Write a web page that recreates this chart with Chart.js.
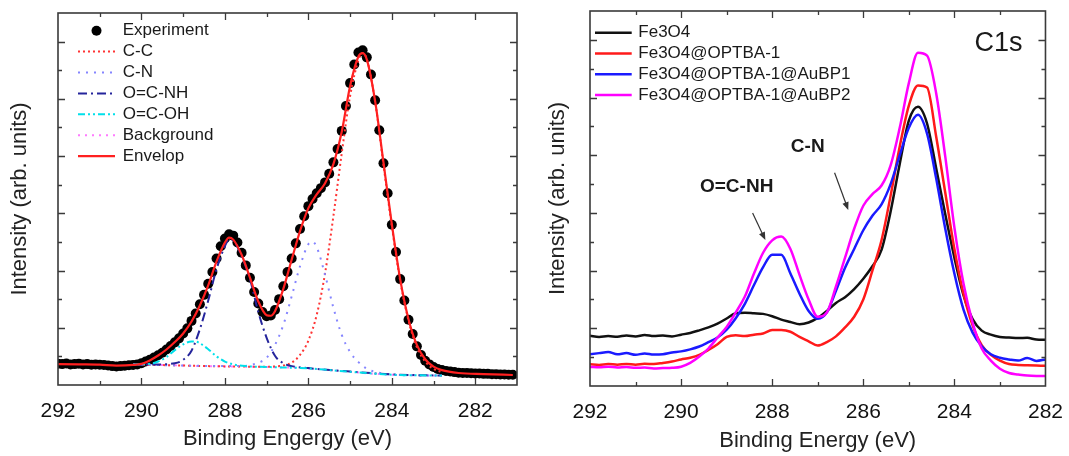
<!DOCTYPE html>
<html>
<head>
<meta charset="utf-8">
<script src="https://cdn.jsdelivr.net/npm/chart.js@4.4.0/dist/chart.umd.min.js"></script>
<style>
  html, body { margin: 0; padding: 0; background: #fff; }
  #wrap { display: flex; width: 1069px; height: 456px; }
  canvas { display: block; }
</style>
</head>
<body>
<div id="wrap">
  <canvas id="fit" width="535" height="456"></canvas>
  <canvas id="cmp" width="534" height="456"></canvas>
</div>
<script>
var FONT = "'Liberation Sans', Arial, sans-serif";

// ---- C1s peak fit (left) ----
// measured points, 0.1 eV step
var expEV = [
  292.0, 291.9, 291.8, 291.7, 291.6, 291.5, 291.4, 291.3, 291.2, 291.1,
  291.0, 290.9, 290.8, 290.7, 290.6, 290.5, 290.4, 290.3, 290.2, 290.1,
  290.0, 289.9, 289.8, 289.7, 289.6, 289.5, 289.4, 289.3, 289.2, 289.1,
  289.0, 288.9, 288.8, 288.7, 288.6, 288.5, 288.4, 288.3, 288.2, 288.1,
  288.0, 287.9, 287.8, 287.7, 287.6, 287.5, 287.4, 287.3, 287.2, 287.1,
  287.0, 286.9, 286.8, 286.7, 286.6, 286.5, 286.4, 286.3, 286.2, 286.1,
  286.0, 285.9, 285.8, 285.7, 285.6, 285.5, 285.4, 285.3, 285.2, 285.1,
  285.0, 284.9, 284.8, 284.7, 284.6, 284.5, 284.4, 284.3, 284.2, 284.1,
  284.0, 283.9, 283.8, 283.7, 283.6, 283.5, 283.4, 283.3, 283.2, 283.1,
  283.0, 282.9, 282.8, 282.7, 282.6, 282.5, 282.4, 282.3, 282.2, 282.1,
  282.0, 281.9, 281.8, 281.7, 281.6, 281.5, 281.4, 281.3, 281.2, 281.1
];
var expI = [
  0.74, 0.73, 0.75, 0.72, 0.73, 0.74, 0.72, 0.73, 0.71, 0.72,
  0.71, 0.70, 0.68, 0.66, 0.65, 0.66, 0.67, 0.69, 0.70, 0.72,
  0.76, 0.82, 0.88, 0.96, 1.04, 1.13, 1.24, 1.36, 1.49, 1.63,
  1.80, 1.98, 2.24, 2.50, 2.82, 3.15, 3.54, 3.95, 4.42, 4.85,
  5.12, 5.27, 5.22, 4.98, 4.62, 4.18, 3.75, 3.25, 2.85, 2.55,
  2.40, 2.43, 2.62, 3.00, 3.45, 3.95, 4.42, 4.95, 5.45, 5.90,
  6.25, 6.50, 6.70, 6.88, 7.08, 7.38, 7.78, 8.25, 8.88, 9.75,
  10.55, 11.20, 11.62, 11.70, 11.45, 10.85, 9.95, 8.90, 7.75, 6.70,
  5.60, 4.65, 3.70, 2.95, 2.28, 1.78, 1.35, 1.05, 0.85, 0.72,
  0.63, 0.56, 0.52, 0.49, 0.47, 0.45, 0.43, 0.42, 0.42, 0.41,
  0.40, 0.40, 0.39, 0.39, 0.38, 0.38, 0.37, 0.37, 0.36, 0.36
];

var ccEV = [290.2, 289.0, 288.0, 287.0, 286.8, 286.6, 286.4, 286.2, 286.0, 285.8, 285.6, 285.4, 285.2,
            285.0, 284.8, 284.7, 284.6, 284.4, 284.2, 284.0, 283.8, 283.6, 283.4, 283.2, 283.0, 282.8];
var ccI = [0.72, 0.68, 0.65, 0.64, 0.65, 0.68, 0.78, 1.05, 1.55, 2.45, 3.90, 5.90, 8.10,
           10.10, 11.35, 11.60, 11.40, 9.90, 7.70, 5.55, 3.65, 2.25, 1.32, 0.82, 0.56, 0.45];

var cnEV = [290.2, 289.0, 288.0, 287.6, 287.2, 287.0, 286.8, 286.6, 286.4, 286.2, 286.0, 285.9, 285.8,
            285.6, 285.4, 285.2, 285.0, 284.8, 284.6, 284.2, 283.6, 282.8];
var cnI = [0.72, 0.68, 0.66, 0.66, 0.78, 0.95, 1.40, 2.10, 3.10, 4.15, 4.92, 5.00, 4.82,
           3.85, 2.70, 1.75, 1.15, 0.80, 0.57, 0.40, 0.34, 0.33];

var amideEV = [290.2, 289.6, 289.2, 289.0, 288.8, 288.6, 288.4, 288.2, 288.0, 287.9, 287.8, 287.6,
               287.4, 287.2, 287.0, 286.8, 286.6, 286.4, 286.0, 285.0, 284.0, 282.8];
var amideI = [0.72, 0.72, 0.76, 0.88, 1.20, 1.95, 2.95, 4.05, 4.85, 5.08, 5.05, 4.50,
              3.70, 2.55, 1.65, 1.02, 0.76, 0.66, 0.59, 0.47, 0.37, 0.33];

var acidEV = [290.2, 289.8, 289.6, 289.4, 289.2, 289.0, 288.8, 288.7, 288.6, 288.4, 288.2, 288.0,
              287.8, 287.5, 287.0, 286.0, 285.0, 284.0, 282.8];
var acidI = [0.72, 0.74, 0.82, 0.98, 1.22, 1.42, 1.52, 1.52, 1.46, 1.25, 1.00, 0.82,
             0.72, 0.66, 0.63, 0.58, 0.46, 0.36, 0.33];

var bgEV = [290.2, 290.0, 289.5, 289.0, 288.5, 288.0, 287.5, 287.0, 286.5, 286.0, 285.5, 285.0,
            284.5, 284.0, 283.5, 283.0, 282.8];
var bgI = [0.72, 0.72, 0.70, 0.68, 0.66, 0.65, 0.64, 0.63, 0.61, 0.58, 0.52, 0.46,
           0.40, 0.36, 0.34, 0.33, 0.33];

var envEV = [292.0, 291.5, 291.0, 290.6, 290.2, 290.0, 289.8, 289.6, 289.4, 289.2, 289.0, 288.8,
             288.6, 288.4, 288.2, 288.0, 287.9, 287.8, 287.6, 287.4, 287.2, 287.0, 286.9, 286.8,
             286.6, 286.4, 286.2, 286.0, 285.8, 285.6, 285.4, 285.2, 285.0, 284.8, 284.7, 284.6,
             284.4, 284.2, 284.0, 283.8, 283.6, 283.4, 283.2, 283.0, 282.8, 282.4, 281.8, 281.1];
var envI = [0.73, 0.72, 0.71, 0.68, 0.70, 0.74, 0.86, 1.03, 1.24, 1.50, 1.80, 2.22,
            2.78, 3.48, 4.32, 4.98, 5.15, 5.08, 4.55, 3.75, 2.92, 2.44, 2.42, 2.58,
            3.36, 4.38, 5.38, 6.18, 6.66, 7.05, 7.72, 8.85, 10.45, 11.48, 11.60, 11.38,
            9.92, 7.78, 5.62, 3.70, 2.30, 1.40, 0.90, 0.64, 0.52, 0.42, 0.38, 0.35];

var fitLabels = ['Experiment', 'C-C', 'C-N', 'O=C-NH', 'O=C-OH', 'Background', 'Envelop'];
var fitTickLabels = [292, 290, 288, 286, 284, 282];

// ---- sample comparison (right) ----
var cmpEV = [
  292.0, 291.8, 291.6, 291.4, 291.2, 291.0, 290.8, 290.6, 290.4, 290.2,
  290.0, 289.8, 289.6, 289.4, 289.2, 289.0, 288.8, 288.6, 288.4, 288.2,
  288.0, 287.8, 287.6, 287.4, 287.2, 287.0, 286.8, 286.6, 286.4, 286.2,
  286.0, 285.8, 285.6, 285.4, 285.2, 285.0, 284.8, 284.6, 284.4, 284.2,
  284.0, 283.8, 283.6, 283.4, 283.2, 283.0, 282.8, 282.6, 282.4, 282.2,
  282.0
];
var fe3o4 = [
  1.74, 1.70, 1.73, 1.71, 1.75, 1.72, 1.77, 1.73, 1.75, 1.72,
  1.78, 1.84, 1.93, 2.03, 2.16, 2.34, 2.52, 2.54, 2.52, 2.50,
  2.42, 2.30, 2.22, 2.14, 2.20, 2.36, 2.60, 2.88, 3.08, 3.36,
  3.72, 4.15, 4.72, 6.05, 7.70, 9.20, 9.68, 9.10, 7.55, 5.95,
  4.45, 3.15, 2.32, 1.92, 1.78, 1.70, 1.68, 1.66, 1.67, 1.61,
  1.60
];
var optba = [
  0.75, 0.73, 0.76, 0.74, 0.76, 0.74, 0.77, 0.76, 0.80, 0.85,
  0.92, 0.98, 1.08, 1.25, 1.45, 1.70, 1.76, 1.73, 1.78, 1.82,
  1.94, 1.94, 1.88, 1.70, 1.55, 1.40, 1.52, 1.72, 2.03, 2.40,
  3.00, 4.00, 5.05, 6.60, 8.30, 9.72, 10.42, 10.35, 8.65, 6.70,
  4.75, 3.20, 2.10, 1.42, 1.08, 0.88, 0.76, 0.73, 0.72, 0.71,
  0.70
];
var aubp1 = [
  1.10, 1.14, 1.18, 1.10, 1.14, 1.08, 1.13, 1.09, 1.10, 1.16,
  1.20, 1.27, 1.37, 1.52, 1.68, 1.95, 2.35, 2.85, 3.50, 4.12,
  4.55, 4.55, 3.90, 3.20, 2.60, 2.33, 2.55, 3.30, 4.10, 4.75,
  5.40, 5.90, 6.30, 7.00, 8.00, 8.95, 9.40, 8.75, 7.20, 5.45,
  3.90, 2.65, 1.85, 1.38, 1.10, 0.98, 0.92, 0.88, 0.97, 0.87,
  0.92
];
var aubp2 = [
  0.66, 0.65, 0.67, 0.64, 0.66, 0.63, 0.64, 0.61, 0.62, 0.63,
  0.67, 0.80, 1.02, 1.30, 1.68, 2.05, 2.55, 3.10, 3.90, 4.62,
  5.05, 5.18, 4.75, 3.85, 3.00, 2.40, 2.55, 3.45, 4.45, 5.45,
  6.25, 6.65, 6.95, 7.65, 8.95, 10.50, 11.55, 11.45, 10.15, 7.95,
  5.50, 3.55, 2.20, 1.30, 0.88, 0.60, 0.45, 0.40, 0.36, 0.35,
  0.35
];
var cmpLabels = ['Fe3O4', 'Fe3O4@OPTBA-1', 'Fe3O4@OPTBA-1@AuBP1', 'Fe3O4@OPTBA-1@AuBP2'];
var cmpTickLabels = [292, 290, 288, 286, 284, 282];

// peak annotations (eV, intensity)
var noteText = ['O=C-NH', 'C-N', 'C1s'];
var noteEV = [288.78, 287.22, 283.03];
var noteI = [6.90, 8.29, 11.86];
var arrowFromEV = [288.43, 286.63], arrowFromI = [6.00, 7.39];
var arrowToEV = [288.15, 286.33], arrowToI = [5.06, 6.10];

function pts(ev, vals) {
    return ev.map(function (e, i) { return {x: e, y: vals[i]}; });
}

// frame box with inward ticks on all four sides
var boxTicks = {
    id: 'boxTicks',
    afterDatasetsDraw: function (chart) {
        var ctx = chart.ctx, a = chart.chartArea, sx = chart.scales.x, sy = chart.scales.y;
        ctx.save();
        ctx.strokeStyle = '#3a3a3a';
        ctx.lineWidth = 1.6;
        ctx.strokeRect(a.left, a.top, a.right - a.left, a.bottom - a.top);
        ctx.lineWidth = 1.3;
        ctx.beginPath();
        sx.ticks.forEach(function (t) {
            if (t.value <= sx.min || t.value >= sx.max) return;
            var p = Math.round(sx.getPixelForValue(t.value)) + 0.5;
            var len = t.value % 2 === 0 ? 7 : 4;
            ctx.moveTo(p, a.bottom); ctx.lineTo(p, a.bottom - len);
            ctx.moveTo(p, a.top); ctx.lineTo(p, a.top + len);
        });
        sy.ticks.forEach(function (t) {
            if (t.value <= sy.min || t.value >= sy.max) return;
            var p = Math.round(sy.getPixelForValue(t.value)) + 0.5;
            var len = t.value % 2 === 0 ? 7 : 4;
            ctx.moveTo(a.left, p); ctx.lineTo(a.left + len, p);
            ctx.moveTo(a.right, p); ctx.lineTo(a.right - len, p);
        });
        ctx.stroke();
        ctx.restore();
    }
};

// vertical legend drawn inside the plot, one row per dataset
var sideLegend = {
    id: 'sideLegend',
    afterDraw: function (chart, args, opts) {
        var ctx = chart.ctx, a = chart.chartArea;
        ctx.save();
        ctx.font = '17px ' + FONT;
        ctx.textBaseline = 'middle';
        chart.data.datasets.forEach(function (ds, i) {
            var y = a.top + opts.top + i * opts.row;
            var x0 = a.left + opts.left, x1 = x0 + opts.len;
            if (ds.showLine === false) {
                ctx.beginPath();
                ctx.arc((x0 + x1) / 2, y, ds.pointRadius, 0, Math.PI * 2);
                ctx.fillStyle = ds.pointBackgroundColor;
                ctx.fill();
            } else {
                ctx.beginPath();
                ctx.setLineDash(ds.borderDash || []);
                ctx.strokeStyle = ds.borderColor;
                ctx.lineWidth = ds.borderWidth;
                ctx.moveTo(x0, y);
                ctx.lineTo(x1, y);
                ctx.stroke();
                ctx.setLineDash([]);
            }
            ctx.fillStyle = '#1a1a1a';
            ctx.fillText(ds.label, x1 + opts.gap, y);
        });
        ctx.restore();
    }
};

// peak labels and arrows on the comparison plot
var peakNotes = {
    id: 'peakNotes',
    afterDatasetsDraw: function (chart) {
        var ctx = chart.ctx, sx = chart.scales.x, sy = chart.scales.y;
        ctx.save();
        ctx.fillStyle = '#1a1a1a';
        ctx.textAlign = 'center';
        ctx.textBaseline = 'middle';
        noteText.forEach(function (t, i) {
            ctx.font = t === 'C1s' ? '27px ' + FONT : 'bold 19px ' + FONT;
            ctx.fillText(t, sx.getPixelForValue(noteEV[i]), sy.getPixelForValue(noteI[i]));
        });
        ctx.strokeStyle = '#333';
        ctx.fillStyle = '#333';
        ctx.lineWidth = 1.2;
        arrowFromEV.forEach(function (e, i) {
            var x0 = sx.getPixelForValue(e), y0 = sy.getPixelForValue(arrowFromI[i]);
            var x1 = sx.getPixelForValue(arrowToEV[i]), y1 = sy.getPixelForValue(arrowToI[i]);
            var ang = Math.atan2(y1 - y0, x1 - x0), h = 8, w = 3.2;
            var c = Math.cos(ang), s = Math.sin(ang);
            ctx.beginPath();
            ctx.moveTo(x0, y0);
            ctx.lineTo(x1 - h * 0.7 * c, y1 - h * 0.7 * s);
            ctx.stroke();
            ctx.beginPath();
            ctx.moveTo(x1, y1);
            ctx.lineTo(x1 - h * c + w * s, y1 - h * s - w * c);
            ctx.lineTo(x1 - h * c - w * s, y1 - h * s + w * c);
            ctx.closePath();
            ctx.fill();
        });
        ctx.restore();
    }
};

function axes(xmin, tickLabels, xTitle, yWidth, xHeight, tickPad, xTitlePad, yTitlePad) {
    return {
        x: {
            type: 'linear', reverse: true, min: xmin, max: 292,
            afterFit: function (s) { s.height = xHeight; },
            grid: {display: false}, border: {display: false},
            ticks: {
                stepSize: 1, padding: tickPad, autoSkip: false, maxRotation: 0, minRotation: 0,
                color: '#111', font: {family: FONT, size: 21},
                callback: function (v) { return tickLabels.indexOf(v) >= 0 ? String(v) : ''; }
            },
            title: {display: true, text: xTitle, color: '#222', font: {family: FONT, size: 22},
                    padding: {top: 0, bottom: xTitlePad}}
        },
        y: {
            min: 0, max: 13,
            afterFit: function (s) { s.width = yWidth; },
            grid: {display: false}, border: {display: false},
            ticks: {stepSize: 1, display: false},
            title: {display: true, text: 'Intensity (arb. units)', color: '#222',
                    font: {family: FONT, size: 22}, padding: {top: yTitlePad, bottom: 0}}
        }
    };
}

var fitData = {
    datasets: [{
        label: fitLabels[0], data: pts(expEV, expI), showLine: false,
        pointRadius: 5, pointBackgroundColor: '#000', pointBorderWidth: 0, order: 9
    }, {
        label: fitLabels[1], data: pts(ccEV, ccI), borderColor: '#ff3434', borderWidth: 2,
        borderDash: [2, 3], pointRadius: 0, cubicInterpolationMode: 'monotone', order: 5
    }, {
        label: fitLabels[2], data: pts(cnEV, cnI), borderColor: '#8585ff', borderWidth: 2,
        borderDash: [2, 6], pointRadius: 0, cubicInterpolationMode: 'monotone', order: 4
    }, {
        label: fitLabels[3], data: pts(amideEV, amideI), borderColor: '#25259c', borderWidth: 2,
        borderDash: [9, 4, 2, 4], pointRadius: 0, cubicInterpolationMode: 'monotone', order: 3
    }, {
        label: fitLabels[4], data: pts(acidEV, acidI), borderColor: '#00e0ea', borderWidth: 2,
        borderDash: [7, 3, 2, 3, 2, 3], pointRadius: 0, cubicInterpolationMode: 'monotone', order: 2
    }, {
        label: fitLabels[5], data: pts(bgEV, bgI), borderColor: '#ff7aff', borderWidth: 2,
        borderDash: [2, 5], pointRadius: 0, cubicInterpolationMode: 'monotone', order: 6
    }, {
        label: fitLabels[6], data: pts(envEV, envI), borderColor: '#ff2020', borderWidth: 2.2,
        pointRadius: 0, cubicInterpolationMode: 'monotone', order: 0
    }]
};

new Chart(document.getElementById('fit').getContext('2d'), {
    type: 'line',
    data: fitData,
    options: {
        responsive: false, animation: false, devicePixelRatio: 1,
        layout: {padding: {top: 13, right: 18, left: 0, bottom: 0}},
        plugins: {
            legend: {display: false}, tooltip: {enabled: false},
            sideLegend: {left: 20, top: 17.7, row: 20.9, len: 37, gap: 7.7}
        },
        scales: axes(281, fitTickLabels, 'Binding Engergy (eV)', 58, 71, 6, 4, 7)
    },
    plugins: [boxTicks, sideLegend]
});

var cmpColors = ['#111111', '#ff1a1a', '#1a1aff', '#ff00ff'];
var cmpSeries = [fe3o4, optba, aubp1, aubp2];

new Chart(document.getElementById('cmp').getContext('2d'), {
    type: 'line',
    data: {
        datasets: cmpSeries.map(function (vals, i) {
            return {
                label: cmpLabels[i], data: pts(cmpEV, vals), borderColor: cmpColors[i],
                borderWidth: 2.5, pointRadius: 0, cubicInterpolationMode: 'monotone', order: 3 - i
            };
        })
    },
    options: {
        responsive: false, animation: false, devicePixelRatio: 1,
        layout: {padding: {top: 11, right: 21, left: 0, bottom: 0}},
        plugins: {
            legend: {display: false}, tooltip: {enabled: false},
            sideLegend: {left: 5, top: 21.7, row: 20.8, len: 36.7, gap: 6.6}
        },
        scales: axes(282, cmpTickLabels, 'Binding Energy (eV)', 55, 70, 6, 2, 10)
    },
    plugins: [boxTicks, sideLegend, peakNotes]
});
</script>
</body>
</html>
